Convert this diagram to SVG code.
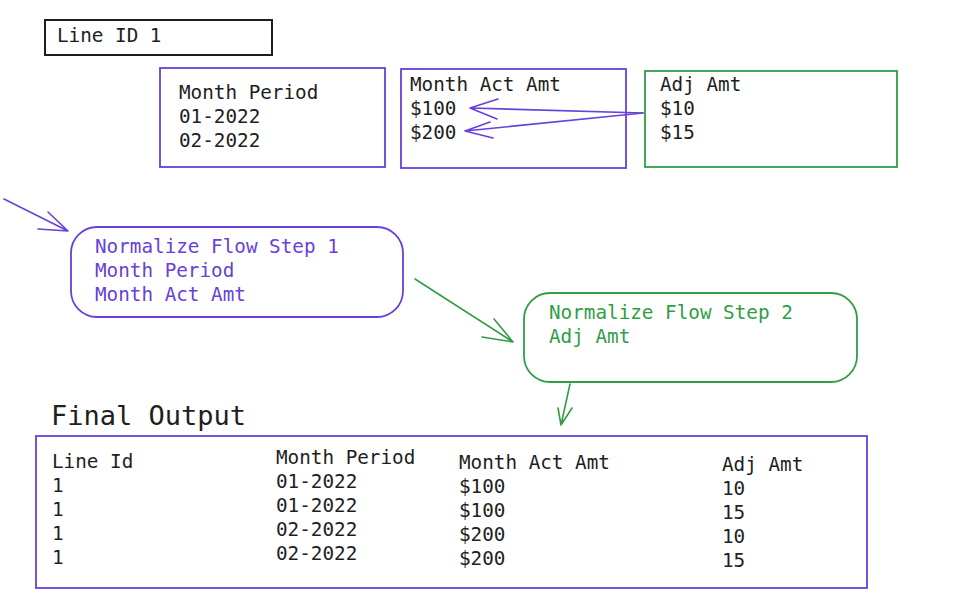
<svg xmlns="http://www.w3.org/2000/svg" width="956" height="614" viewBox="0 0 956 614">
<style>
text{font-family:"DejaVu Sans Mono","Liberation Mono",monospace;font-size:19.3px;}
.k{fill:#1e1e1e}
.p{fill:#6741d9}
.g{fill:#2f9e44}
.bk{fill:none;stroke:#1e1e1e;stroke-width:2}
.bp{fill:none;stroke:#6741d9;stroke-width:1.8}
.bg{fill:none;stroke:#2f9e44;stroke-width:1.8}
.cp{fill:none;stroke:#6741d9;stroke-width:1.6;stroke-linecap:round;stroke-linejoin:round}
.cg{fill:none;stroke:#2f9e44;stroke-width:1.6;stroke-linecap:round;stroke-linejoin:round}
</style>
<rect width="956" height="614" fill="#ffffff"/>
<g id="line-id">
<rect class="bk" x="45" y="20" width="227" height="35"/>
<text class="k" x="57" y="42">Line ID 1</text>
</g>
<g id="month-period">
<rect class="bp" x="160" y="68" width="225" height="99"/>
<text class="k" x="179" y="99">Month Period</text>
<text class="k" x="179" y="123">01-2022</text>
<text class="k" x="179" y="147">02-2022</text>
</g>
<g id="month-act-amt">
<rect class="bp" x="401" y="69" width="225" height="99"/>
<text class="k" x="410" y="91">Month Act Amt</text>
<text class="k" x="410" y="115">$100</text>
<text class="k" x="410" y="139">$200</text>
</g>
<g id="adj-amt">
<rect class="bg" x="645" y="71" width="252" height="96"/>
<text class="k" x="660" y="91">Adj Amt</text>
<text class="k" x="660" y="115">$10</text>
<text class="k" x="660" y="139">$15</text>
</g>
<g id="step1">
<rect class="bp" x="71" y="227" width="332" height="90" rx="26"/>
<text class="p" x="95" y="253">Normalize Flow Step 1</text>
<text class="p" x="95" y="277">Month Period</text>
<text class="p" x="95" y="301">Month Act Amt</text>
</g>
<g id="step2">
<rect class="bg" x="524" y="293" width="333" height="89" rx="26"/>
<text class="g" x="549" y="319">Normalize Flow Step 2</text>
<text class="g" x="549" y="343">Adj Amt</text>
</g>
<g id="final-output">
<text class="k" x="51" y="425" style="font-size:27px">Final Output</text>
<rect class="bp" x="36" y="436" width="831" height="152"/>
<text class="k" x="52" y="468">Line Id</text>
<text class="k" x="52" y="492">1</text>
<text class="k" x="52" y="516">1</text>
<text class="k" x="52" y="540">1</text>
<text class="k" x="52" y="564">1</text>
<text class="k" x="276" y="464">Month Period</text>
<text class="k" x="276" y="488">01-2022</text>
<text class="k" x="276" y="512">01-2022</text>
<text class="k" x="276" y="536">02-2022</text>
<text class="k" x="276" y="560">02-2022</text>
<text class="k" x="459" y="469">Month Act Amt</text>
<text class="k" x="459" y="493">$100</text>
<text class="k" x="459" y="517">$100</text>
<text class="k" x="459" y="541">$200</text>
<text class="k" x="459" y="565">$200</text>
<text class="k" x="722" y="471">Adj Amt</text>
<text class="k" x="722" y="495">10</text>
<text class="k" x="722" y="519">15</text>
<text class="k" x="722" y="543">10</text>
<text class="k" x="722" y="567">15</text>
</g>
<g id="connectors">
<path class="cp" d="M643 113 L470 108 M498 99 L470 108 L497 119"/>
<path class="cp" d="M643 113 L465 131 M490 122 L465 131 L493 138"/>
<path class="cp" d="M4 199 L68 231 M48 212 L68 231 L38 229"/>
<path class="cg" d="M415 279 L513 342 M494 319 L513 342 L482 337"/>
<path class="cg" d="M570 384 L561 425 M558 408 L561 425 L572 408"/>
</g>
</svg>
